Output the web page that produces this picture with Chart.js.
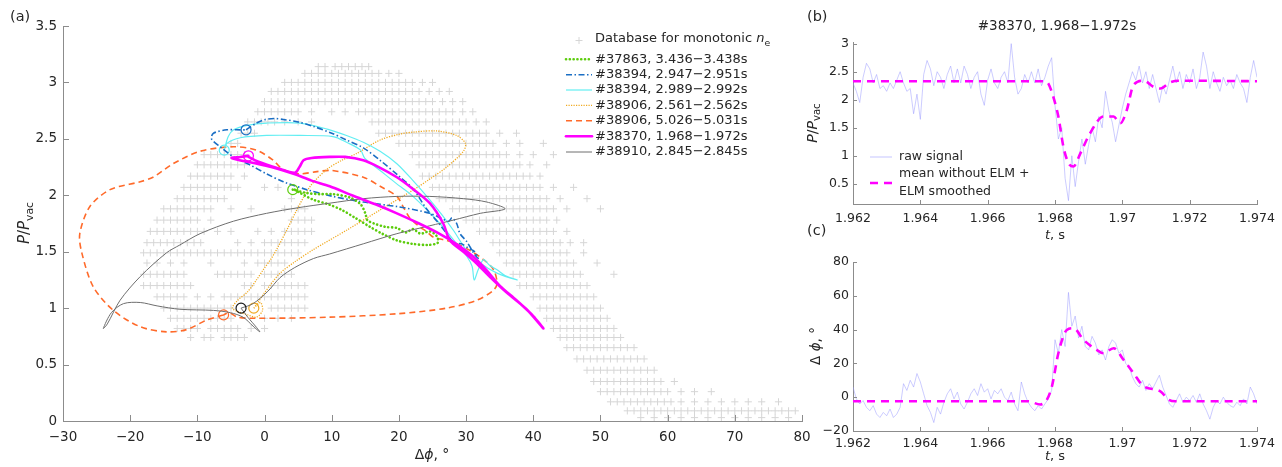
<!DOCTYPE html>
<html><head><meta charset="utf-8">
<script src="https://cdn.jsdelivr.net/npm/chart.js@4.4.1/dist/chart.umd.min.js"></script>
<style>
html,body{margin:0;padding:0;background:#fff;width:1282px;height:467px;overflow:hidden}
canvas{position:absolute;left:0;top:0}
</style></head><body>
<canvas id="ca" width="1282" height="467"></canvas>
<canvas id="cb" width="1282" height="467"></canvas>
<canvas id="cc" width="1282" height="467"></canvas>
<script>
// ---------------- DATA ----------------
const aXTicks = [-30,-20,-10,0,10,20,30,40,50,60,70,80];
const aYTicks = [0,0.5,1,1.5,2,2.5,3,3.5];
const bXTicks = [1.962,1.964,1.966,1.968,1.970,1.972,1.974];
const bXLabels = ['1.962','1.964','1.966','1.968','1.97','1.972','1.974'];
const bYTicks = [0.5,1,1.5,2,2.5,3];
const cYTicks = [-20,0,20,40,60,80];

const legendLabels = ['#37863, 3.436\u22123.438s','#38394, 2.947\u22122.951s','#38394, 2.989\u22122.992s',
  '#38906, 2.561\u22122.562s','#38906, 5.026\u22125.031s','#38370, 1.968\u22121.972s','#38910, 2.845\u22122.845s'];

// database (monotonic n_e): rows of points, y level + x positions
const dbRowY = [3.14,3.08,3.00,2.92,2.83,2.74,2.65,2.55,2.46,2.36,2.27,2.17,2.07,1.97,1.88,1.78,1.68,1.58,1.49,1.40,1.30,1.20,1.10,1.00,0.91,0.82,0.74,0.65,0.55,0.45,0.35,0.26,0.17,0.09,0.03];
const dbRowX = [
 [8,9,10.5,11.5,12.5,13.5,14.5,15.5],
 [6,7,8,9,10,11,12,13,14,15,16,17,18.5,20],
 [3,4,5,6,7,8,9,10,11,12,13,14,15,16,17,18,19,20,21,22,23.5,25],
 [1,2,3,4,5,6,7,8,9,10,11,12,13,14,15,16,17,18,19,20,21,22,23,24.5,26,27.5],
 [0,1,2,3,4,5,6,7,8,9,10,11,12,13,14,15,16,17,18,19,20,21,22,23,24,25,26.5,28,29.5],
 [-1,0,1,2,3,4,5,7,10,12,14,15,16,17,18,19,20,21,22,23,24,25,26,27,28,29.5,31],
 [-2.5,-1.5,-0.5,0.5,1.5,3,5,7,16,17,18,19,20,21,22,23,24,25,26,27,28,29,30,31.5,33],
 [-3.5,-2.5,-1.5,17,18,19,20,21,22,23,24,25,26,27,28,29,30,31,32,33,35,37.5],
 [-5,-4,20,21,22,23,24,25,26,27,28,29,30,31,32,33,34,36,38,41.5],
 [-9,-8,-7,-6,-5,-4,-3,22,23,24,25,26,27,28,29,30,31,32,33,34,35,36,38,40,43],
 [-10,-9,-8,-7,-6,-5,-4,-3,23,24,25,26,27,28,29,30,31,32,33,34,35,36,37,38,39.5,42],
 [-11,-10,-9,-8,-7,-6,-5,-3,23.5,24.5,25.5,26.5,27.5,28.5,29.5,30.5,31.5,32.5,33.5,34.5,35.5,36.5,37.5,38.5,39.5,41],
 [-12,-11,-10,-9,-8,-7,-6,-5,-4,0,2,25,26,27,28,29,30,31,32,33,34,35,36,37,38,39,40,41,43,46],
 [-13,-12,-11,-10,-9,-8,-7,-6,4,26,27,28,29,30,31,32,33,34,35,36,37,38,39,40,41,42,44,48],
 [-15,-14,-13,-12,-11,-10,-9,-8,-5,-2,3,4,5,6,28,29,30,31,32,33,34,35,36,37,38,39,40,41,42,43,45,50],
 [-16,-15,-14,-13,-12,-11,-10,-8,4,5,6,7,30,31,32,33,34,35,36,37,38,39,40,41,42,43.5],
 [-17,-16,-15,-14,-13,-12,-11,-10,-9,-7,-5,-1,1,3,4,5,6,7,32,33,34,35,36,37,38,39,40,41,42,43,45],
 [-17.5,-16.5,-15.5,-14.5,-13.5,-12.5,-11.5,-10.5,-9.5,-4,-2,0,1,2,3,4,5,6,34,35,36,37,38,39,40,41,42,43,44,45.5,47.5],
 [-18,-17,-16,-15,-14,-13,-12,-11,-10,-9,-8,-7,-6,-5,-4,-3,-2,-1,0,1,2,3,4,5,35,36,37,38,39,40,41,42,43,44,45,47.5],
 [-17.5,-16,-14,-12,-8,-3,-1,0,1,2,3,36,37,38,39,40,41,42,43,44,45,46,49.5],
 [-18,-17,-16,-15,-14,-13,-12,-7,-6,-5,-4,-3,-2,0,1,2,3,4,37,38,39,40,41,42,43,44,45,46,47,52],
 [-18,-17,-16,-15,-14,-13,-12,-11,-3,-2,0,1,2,3,4,5,6,38,39,40,41,42,43,44,45,46,47,48],
 [-16,-15,-14,-13,-12,-10,-8,-6,-5,-4,-3,-2,-1,0,1,2,3,4,5,6,40,41,42,43,44,45,46,47,48,49],
 [-15,-14,-13,-12,-11,-10,-9,-8,-7,-6,-5,1,2,3,4,5,6,41,42,43,44,45,46,47,48,49,50],
 [-14,-13,-12,-11,-10,-9,-8,-7,-6,-5,0,2,4,42,43,44,45,46,47,48,49,50,51],
 [-13,-12,-11,-10,-8,-7,-6,-5,-4,-2,0,43,44,45,46,47,48,49,50,51,52],
 [-11,-9,-8,-6,-5,-4,-3,44,45,46,47,48,49,50,51,52,53],
 [45,46,47,48,49,50,51,52,53,54,55],
 [46.5,47.5,48.5,49.5,50.5,51.5,52.5,53.5,54.5,55.5,56.5],
 [48,49,50,51,52,53,54,55,56,57,58],
 [49,50,51,52,53,54,55,56,57,58,59,61],
 [50,51,52,53,54,55,56,57,58,59,60,62,64,66.5],
 [51.5,52.5,53.5,54.5,55.5,56.5,57.5,58.5,59.5,60.5,62,64,66,68,70,72,74,76.5],
 [54,55,56,57,58,59,60,61,62,63,64,65,66,67,68,69,70,71,72,73,74,75,76,77,78,79],
 [56,58,60,62,64,66,68,70,72,74,76,78]
];

// trajectories (Δφ [deg], P/Pvac); first point = start circle
const tr37863 = [[4.2,2.05],[6.3,2.02],[8.2,2.01],[10.2,2.01],[12.7,1.98],[14.3,1.92],[15.0,1.84],[15.3,1.78],[16.3,1.75],[18,1.72],[19.7,1.71],[21,1.67],[22.1,1.70],[23.2,1.66],[24.6,1.68],[25.6,1.64],[25.8,1.58],[24.3,1.56],[22,1.57],[19.7,1.60],[17.5,1.66],[15.7,1.72],[13.5,1.80],[11.5,1.87],[9.5,1.92],[7.3,1.96],[5.3,2.02],[4.5,2.05]];
const tr38394a = [[-2.75,2.58],[-1.2,2.64],[0,2.67],[1.5,2.68],[3,2.67],[5,2.65],[7.3,2.61],[10,2.55],[12.2,2.49],[14.7,2.42],[17.2,2.31],[20,2.17],[22.2,2.05],[24.1,1.88],[26.1,1.74],[27.1,1.66],[28.2,1.58],[29.3,1.57],[30.4,1.53],[31.3,1.50],[31.8,1.44],[31.1,1.49],[30.1,1.59],[29.1,1.66],[28.6,1.75],[27.9,1.80],[27.4,1.77],[24.6,1.84],[19.7,1.90],[14.7,1.94],[10.2,1.99],[6.3,2.05],[2.8,2.12],[0.3,2.19],[-2.2,2.27],[-4.6,2.34],[-6.6,2.43],[-7.9,2.50],[-7.6,2.55],[-5.6,2.58],[-3.6,2.58],[-2.75,2.58]];
const tr38394b = [[-6,2.40],[-5.4,2.52],[-4.6,2.58],[-2.6,2.62],[0.3,2.64],[5.3,2.64],[9.7,2.58],[12.2,2.53],[14.7,2.47],[17.2,2.39],[19.7,2.28],[22.1,2.13],[24.6,1.96],[26.5,1.82],[28.1,1.69],[30.1,1.51],[32.1,1.40],[34.6,1.31],[37.6,1.25],[35.8,1.29],[34.6,1.34],[33.5,1.38],[32.6,1.43],[31.8,1.34],[31.2,1.25],[30.9,1.37],[30.1,1.46],[28.6,1.57],[26.1,1.75],[22.1,1.99],[19.5,2.11],[17.2,2.22],[14.9,2.33],[14.3,2.40],[12.2,2.47],[10.2,2.52],[5.3,2.53],[0.3,2.53],[-3.6,2.51],[-5.6,2.46],[-6,2.40]];
const tr38906a = [[-1.6,1.00],[-0.6,1.05],[-0.3,0.98],[-1.2,0.92],[-2.5,0.94],[-4,0.97],[-4.8,1.00],[-4,1.07],[-2.6,1.14],[-1.2,1.25],[-0.2,1.34],[1,1.44],[1.8,1.52],[3.3,1.69],[4.8,1.87],[6.8,2.08],[9.3,2.23],[11.5,2.31],[13.7,2.37],[17.2,2.49],[20,2.54],[22.2,2.56],[25.6,2.57],[28.6,2.53],[29.9,2.46],[29.6,2.39],[27.1,2.25],[24.5,2.14],[22.2,2.05],[17.2,1.87],[12.2,1.69],[7.3,1.52],[4.5,1.41],[2.3,1.31],[0.8,1.20],[-0.2,1.12],[-1.0,1.05],[-1.6,1.00]];
const tr38906b = [[-6.1,0.94],[-8.6,0.895],[-11.6,0.81],[-14.6,0.79],[-18.5,0.835],[-22.5,0.98],[-25.5,1.19],[-27.2,1.49],[-27.5,1.66],[-26,1.90],[-23,2.05],[-18.5,2.12],[-16.6,2.16],[-13.6,2.28],[-9.6,2.39],[-4.65,2.43],[-1.2,2.40],[1.3,2.31],[2.3,2.25],[3.5,2.21],[5.3,2.19],[7.8,2.21],[10,2.22],[14.7,2.16],[17.2,2.08],[19.7,1.99],[20.8,1.88],[21.6,1.80],[22.3,1.76],[23.1,1.72],[24.1,1.68],[25.1,1.63],[27.1,1.60],[28.6,1.57],[30.6,1.51],[32.6,1.43],[34.1,1.34],[34.6,1.22],[34.1,1.16],[31.6,1.07],[27.1,1.00],[19.7,0.95],[9.7,0.92],[-1.7,0.91],[-4,0.92],[-5.3,0.96],[-6.1,0.94]];
const tr38370 = [[-2.4,2.35],[-3.6,2.34],[-4.9,2.33],[-2,2.29],[1,2.25],[4.3,2.19],[7,2.13],[9.7,2.08],[13,2.0],[16.5,1.92],[19.7,1.84],[23,1.75],[26,1.66],[28.5,1.57],[31,1.46],[33,1.34],[35,1.2],[37.5,1.07],[40,0.93],[41.5,0.82],[39,0.99],[36,1.14],[33.5,1.28],[31.5,1.4],[29.6,1.5],[27.6,1.6],[26.6,1.75],[24.6,1.93],[22,2.06],[19.7,2.16],[17,2.25],[14.7,2.31],[12,2.34],[9.7,2.34],[7,2.33],[5.8,2.31],[5.2,2.25],[4.5,2.2],[2,2.24],[-1,2.3],[-2.4,2.34]];
const tr38910 = [[-3.5,1.00],[-2.5,0.92],[-1.2,0.83],[-0.7,0.79],[-1.7,0.84],[-3.2,0.92],[-5.1,0.96],[-7.6,0.98],[-12.6,0.99],[-16,1.02],[-18.5,1.05],[-21,1.04],[-22.8,0.96],[-24,0.82],[-23.4,0.86],[-21.5,1.07],[-18.5,1.28],[-14.6,1.49],[-12.6,1.56],[-9.6,1.66],[-4.65,1.77],[0.3,1.84],[5,1.89],[9.7,1.93],[14.7,1.97],[19.7,1.99],[24.6,1.99],[29.6,1.97],[33.1,1.94],[35.8,1.88],[32.1,1.84],[28.1,1.78],[24.6,1.73],[19.7,1.66],[14.7,1.57],[9.7,1.48],[7.3,1.44],[4.5,1.36],[2.3,1.27],[0.5,1.15],[-1.7,1.04],[-3.5,1.00]];

// time traces #38370
const tRaw = [1.962,1.9621,1.9622,1.9623,1.9624,1.9625,1.9626,1.9627,1.9628,1.9629,
1.963,1.9631,1.9632,1.9633,1.9634,1.9635,1.9636,1.9637,1.9638,1.9639,
1.964,1.9641,1.9642,1.9643,1.9644,1.9645,1.9646,1.9647,1.9648,1.9649,
1.965,1.9651,1.9652,1.9653,1.9654,1.9655,1.9656,1.9657,1.9658,1.9659,
1.966,1.9661,1.9662,1.9663,1.9664,1.9665,1.9666,1.9667,1.9668,1.9669,
1.967,1.9671,1.9672,1.9673,1.9674,1.9675,1.9676,1.9677,1.9678,1.9679,
1.968,1.9681,1.9682,1.9683,1.9684,1.9685,1.9686,1.9687,1.9688,1.9689,
1.969,1.9691,1.9692,1.9693,1.9694,1.9695,1.9696,1.9697,1.9698,1.9699,
1.97,1.9701,1.9702,1.9703,1.9704,1.9705,1.9706,1.9707,1.9708,1.9709,
1.971,1.9711,1.9712,1.9713,1.9714,1.9715,1.9716,1.9717,1.9718,1.9719,
1.972,1.9721,1.9722,1.9723,1.9724,1.9725,1.9726,1.9727,1.9728,1.9729,
1.973,1.9731,1.9732,1.9733,1.9734,1.9735,1.9736,1.9737,1.9738,1.9739,
1.974];
const rawP = [2.3,2.15,1.95,2.4,2.65,2.55,2.3,2.45,2.2,2.25,
2.15,2.3,2.2,2.35,2.5,2.3,2.15,2.2,1.75,2.1,
1.65,2.45,2.7,2.55,2.25,2.5,2.4,2.2,2.45,2.6,
2.3,2.55,2.3,2.6,2.45,2.2,2.4,2.5,2.1,1.9,
2.35,2.55,2.3,2.2,2.4,2.5,2.3,3.0,2.4,2.1,
2.2,2.45,2.3,2.5,2.3,2.55,2.25,2.4,2.6,2.75,
1.9,1.3,1.5,0.6,0.2,1.0,0.45,0.9,1.3,0.85,
1.2,1.5,1.25,1.7,1.5,2.15,1.8,1.6,1.25,1.55,
1.85,2.1,2.3,2.5,2.35,2.6,2.3,2.5,2.2,2.45,
2.2,1.95,2.25,2.1,2.35,2.6,2.3,2.5,2.2,2.45,
2.3,2.55,2.2,2.4,2.85,2.6,2.2,2.5,2.3,2.15,
2.4,2.25,2.35,2.2,2.45,2.3,2.2,1.95,2.4,2.7,
2.4];
const rawPhi = [6,-1,-4,-2,-6,-8,-5,-10,-12,-9,
-11,-7,-12,-10,-6,8,4,10,6,14,
9,2,-5,-9,-15,-6,-10,-3,2,5,
-1,3,-4,-7,-3,2,5,1,8,3,
5,-1,4,2,5,0,-2,3,-4,-8,
9,2,-3,-6,-8,-5,-7,-4,-1,4,
34,26,40,30,62,42,48,35,42,30,
28,36,32,25,28,22,30,34,32,26,
28,20,18,12,8,6,10,4,8,5,
9,13,6,1,-4,-6,-2,2,-3,0,
-2,1,-3,2,-4,-8,-13,-6,-2,-4,
0,-3,-5,-6,-3,-5,-1,-4,6,2,
-4];
const meanPT = [1.962,1.9677,1.96781,1.96795,1.9681,1.96825,1.9684,1.96855,1.96875,1.96904,1.96944,1.96974,1.96994,1.97013,1.97033,1.97063,1.97093,1.97113,1.97142,1.97167,1.974];
const meanP  = [2.33,2.33,2.28,2.05,1.7,1.16,0.87,0.81,1.04,1.4,1.7,1.7,1.58,1.81,2.26,2.34,2.23,2.2,2.31,2.34,2.33];
const meanPhiT = [1.962,1.9672,1.96756,1.96776,1.96791,1.9681,1.96835,1.96855,1.96885,1.96924,1.96944,1.96974,1.97004,1.97033,1.97063,1.97113,1.97137,1.97157,1.974];
const meanPhi  = [-2.4,-2.4,-4.3,-1.4,6.5,26,39.8,40.8,33.9,28,26,29,22,14.3,6.5,3.5,-1.4,-2.4,-2.4];

// ---------------- STYLE ----------------
const FONT = '"DejaVu Sans", sans-serif';
const TXT = '#262626';
const AXC = '#8c8c8c';
const DB_COLOR = '#d6d6d6';
const seriesStyle = [
  {c:'#5ccc0c', w:2.6, dash:[0.1,3.7], cap:'round', o:3},
  {c:'#1a6ec4', w:1.6, dash:[6,2.5,1.5,2.5], cap:'butt', o:4},
  {c:'#62eef2', w:1.2, dash:[], cap:'butt', o:5},
  {c:'#f0aa22', w:1.3, dash:[1.2,1.3], cap:'butt', o:6},
  {c:'#ff6a2a', w:1.6, dash:[6,4], cap:'butt', o:7},
  {c:'#ff00ff', w:2.6, dash:[], cap:'round', o:1},
  {c:'#6e6e6e', w:1.0, dash:[], cap:'butt', o:2, mc:'#1a1a1a'}
];
const trajs = [tr37863,tr38394a,tr38394b,tr38906a,tr38906b,tr38370,tr38910];

// ---------------- HELPERS ----------------
function setFont(ctx,s,it){ctx.font=(it?'italic ':'')+s+'px '+FONT;}
function rich(ctx,parts,x,y,size,align){
  let w=0;const ms=[];
  parts.forEach(p=>{const s=p.sub?size*0.72:size;setFont(ctx,s,p.i);const m=ctx.measureText(p.t).width;ms.push(m);w+=m;});
  let cx=align==='center'?x-w/2:(align==='right'?x-w:x);
  ctx.textAlign='left';ctx.textBaseline='middle';
  parts.forEach((p,k)=>{const s=p.sub?size*0.72:size;setFont(ctx,s,p.i);ctx.fillText(p.t,cx,y+(p.sub?size*0.33:0));cx+=ms[k];});
}
function inwardTicks(chart,len){
  const ctx=chart.ctx,xa=chart.scales.x,ya=chart.scales.y,ca=chart.chartArea;
  ctx.save();ctx.strokeStyle=AXC;ctx.lineWidth=1;ctx.setLineDash([]);ctx.beginPath();
  xa.ticks.forEach(t=>{const p=Math.round(xa.getPixelForValue(t.value))+0.5;ctx.moveTo(p,ca.bottom);ctx.lineTo(p,ca.bottom-len);});
  ya.ticks.forEach(t=>{const p=Math.round(ya.getPixelForValue(t.value))+0.5;ctx.moveTo(ca.left,p);ctx.lineTo(ca.left+len,p);});
  ctx.stroke();ctx.restore();
}
const fmtMinus=v=>String(v).replace('-','\u2212');
function mkScale(min,max,ticks,fit,size,pad,cb,isX){
  return {type:'linear',min,max,
    afterBuildTicks:s=>{s.ticks=ticks.map(v=>({value:v}));},
    afterFit:s=>{if(isX)s.height=fit;else s.width=fit;},
    grid:{display:false,drawTicks:false},
    border:{display:true,color:AXC,width:1},
    ticks:{autoSkip:false,maxRotation:0,padding:pad,color:TXT,font:{family:'DejaVu Sans',size},callback:cb||((v)=>fmtMinus(v))}
  };
}

// ---------------- CHART (a) ----------------
const dbPoints=[];dbRowY.forEach((y,k)=>dbRowX[k].forEach(x=>dbPoints.push({x,y})));
const dsA=[{label:'Database for monotonic ne',data:dbPoints,showLine:false,pointStyle:'cross',pointRadius:3.6,pointBorderColor:DB_COLOR,pointBorderWidth:1,order:100}];
trajs.forEach((tr,k)=>{const st=seriesStyle[k];
  dsA.push({label:legendLabels[k],data:tr.map(p=>({x:p[0],y:p[1]})),showLine:true,tension:0.3,
    borderColor:st.c,borderWidth:st.w,borderDash:st.dash,borderCapStyle:st.cap,borderJoinStyle:'round',
    pointRadius:c=>c.dataIndex===0?5:0,pointBorderColor:st.mc||st.c,pointBackgroundColor:'rgba(0,0,0,0)',pointBorderWidth:1.2,
    order:st.o});
});
const plugA={id:'decA',afterDraw(chart){
  const ctx=chart.ctx;inwardTicks(chart,6);
  ctx.save();ctx.fillStyle=TXT;
  rich(ctx,[{t:'(a)'}],10,17,14.5,'left');
  rich(ctx,[{t:'\u0394'},{t:'\u03d5',i:true},{t:', \u00b0'}],432,455,14,'center');
  ctx.save();ctx.translate(25,223);ctx.rotate(-Math.PI/2);rich(ctx,[{t:'P',i:true},{t:'/'},{t:'P',i:true},{t:'vac',sub:true}],0,0,15,'center');ctx.restore();
  // legend
  ctx.strokeStyle=DB_COLOR;ctx.lineWidth=1;ctx.beginPath();ctx.moveTo(575.5,40.5);ctx.lineTo(582.5,40.5);ctx.moveTo(579,37);ctx.lineTo(579,44);ctx.stroke();
  ctx.fillStyle=TXT;
  rich(ctx,[{t:'Database for monotonic '},{t:'n',i:true},{t:'e',sub:true}],595,39,13,'left');
  const rowsY=[59.3,74.7,90,105.3,120.7,136.3,152];
  for(let k=0;k<7;k++){const ds=chart.data.datasets[k+1];const y=rowsY[k];
    ctx.save();ctx.strokeStyle=ds.borderColor;ctx.lineWidth=ds.borderWidth;ctx.setLineDash(ds.borderDash||[]);ctx.lineCap=ds.borderCapStyle||'butt';
    ctx.beginPath();ctx.moveTo(566,y);ctx.lineTo(592,y);ctx.stroke();ctx.restore();
    ctx.fillStyle=TXT;rich(ctx,[{t:ds.label}],595,y,13,'left');
  }
  ctx.restore();
}};
new Chart(document.getElementById('ca'),{type:'scatter',data:{datasets:dsA},
  options:{responsive:false,animation:false,devicePixelRatio:1,events:[],
    layout:{padding:{left:0,top:26,right:480,bottom:0}},
    plugins:{legend:{display:false},tooltip:{enabled:false}},
    scales:{x:mkScale(-30,80,aXTicks,46,13.5,8,null,true),y:mkScale(0,3.5,aYTicks,63,13.5,6,null,false)}},
  plugins:[plugA]});

// ---------------- CHART (b) ----------------
const RAWC='rgba(150,150,255,0.55)';
const plugB={id:'decB',afterDraw(chart){
  const ctx=chart.ctx;inwardTicks(chart,4);
  ctx.save();ctx.fillStyle=TXT;
  rich(ctx,[{t:'(b)'}],807,17,14.5,'left');
  rich(ctx,[{t:'#38370, 1.968\u22121.972s'}],1057,26,13.5,'center');
  rich(ctx,[{t:'t',i:true},{t:', s'}],1055,236,13,'center');
  ctx.save();ctx.translate(813,123);ctx.rotate(-Math.PI/2);rich(ctx,[{t:'P',i:true},{t:'/'},{t:'P',i:true},{t:'vac',sub:true}],0,0,14,'center');ctx.restore();
  ctx.strokeStyle=RAWC;ctx.lineWidth=1;ctx.beginPath();ctx.moveTo(870,157);ctx.lineTo(892,157);ctx.stroke();
  ctx.strokeStyle='#ff00ff';ctx.lineWidth=2.6;ctx.setLineDash([8,6]);ctx.beginPath();ctx.moveTo(870,183);ctx.lineTo(894,183);ctx.stroke();ctx.setLineDash([]);
  ctx.fillStyle=TXT;
  rich(ctx,[{t:'raw signal'}],899,157,12.5,'left');
  rich(ctx,[{t:'mean without ELM +'}],899,174,12.5,'left');
  rich(ctx,[{t:'ELM smoothed'}],899,192,12.5,'left');
  ctx.restore();
}};
new Chart(document.getElementById('cb'),{type:'scatter',
  data:{datasets:[
    {label:'mean',data:meanPT.map((t,i)=>({x:t,y:meanP[i]})),showLine:true,cubicInterpolationMode:'monotone',borderColor:'#ff00ff',borderWidth:2.6,borderDash:[8,6],pointRadius:0,order:1},
    {label:'raw',data:tRaw.map((t,i)=>({x:t,y:rawP[i]})),showLine:true,tension:0,borderColor:RAWC,borderWidth:0.9,pointRadius:0,order:2}]},
  options:{responsive:false,animation:false,devicePixelRatio:1,events:[],
    layout:{padding:{left:800,top:42,right:25,bottom:222}},
    plugins:{legend:{display:false},tooltip:{enabled:false}},
    scales:{x:mkScale(1.962,1.974,bXTicks,41,12.5,7,(v,i)=>bXLabels[i],true),y:mkScale(0.14,3.03,bYTicks,53,12.5,4,null,false)}},
  plugins:[plugB]});

// ---------------- CHART (c) ----------------
const plugC={id:'decC',afterDraw(chart){
  const ctx=chart.ctx;inwardTicks(chart,4);
  ctx.save();ctx.fillStyle=TXT;
  rich(ctx,[{t:'(c)'}],807,231,14.5,'left');
  rich(ctx,[{t:'t',i:true},{t:', s'}],1055,457,13,'center');
  ctx.save();ctx.translate(816,346);ctx.rotate(-Math.PI/2);rich(ctx,[{t:'\u0394 '},{t:'\u03d5',i:true},{t:', \u00b0'}],0,0,13.5,'center');ctx.restore();
  ctx.restore();
}};
new Chart(document.getElementById('cc'),{type:'scatter',
  data:{datasets:[
    {label:'mean',data:meanPhiT.map((t,i)=>({x:t,y:meanPhi[i]})),showLine:true,cubicInterpolationMode:'monotone',borderColor:'#ff00ff',borderWidth:2.6,borderDash:[8,6],pointRadius:0,order:1},
    {label:'raw',data:tRaw.map((t,i)=>({x:t,y:rawPhi[i]})),showLine:true,tension:0,borderColor:RAWC,borderWidth:0.9,pointRadius:0,order:2}]},
  options:{responsive:false,animation:false,devicePixelRatio:1,events:[],
    layout:{padding:{left:800,top:262,right:25,bottom:0}},
    plugins:{legend:{display:false},tooltip:{enabled:false}},
    scales:{x:mkScale(1.962,1.974,bXTicks,36,12.5,5,(v,i)=>bXLabels[i],true),y:mkScale(-20,80,cYTicks,53,12.5,4,null,false)}},
  plugins:[plugC]});
</script></body></html>
